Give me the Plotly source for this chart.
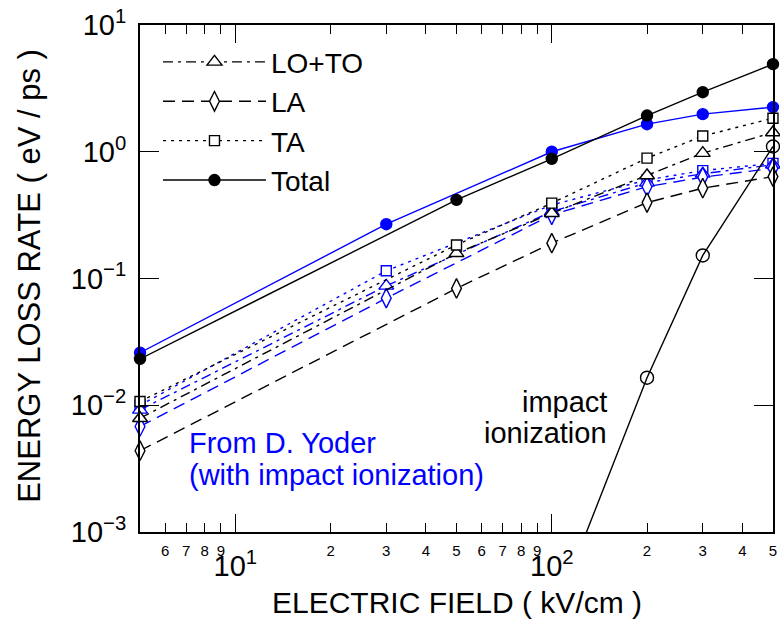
import math
import plotly.graph_objects as go

# ---- data ----
field_black = [5, 50, 100, 200, 300, 500]
lo_to_black = [0.0079, 0.158, 0.327, 0.65, 0.975, 1.42]
la_black = [0.00438, 0.0835, 0.19, 0.397, 0.516, 0.637]
ta_black = [0.0107, 0.184, 0.393, 0.89, 1.33, 1.84]
total_black = [0.0232, 0.417, 0.88, 1.93, 2.95, 4.91]

field_blue = [5, 30, 100, 200, 300, 500]
lo_to_blue = [0.0092, 0.0875, 0.337, 0.57, 0.67, 0.79]
la_blue = [0.0068, 0.070, 0.318, 0.53, 0.63, 0.74]
ta_blue = [0.0100, 0.115, 0.38, 0.60, 0.71, 0.81]
total_blue = [0.026, 0.268, 1.0, 1.65, 1.98, 2.25]

impact_field = [100, 200, 300, 500]
impact_rate = [0.0002, 0.0165, 0.152, 1.1]

minor_x_vals = [6, 7, 8, 9, 20, 30, 40, 50, 60, 70, 80, 90, 200, 300, 400, 500]
minor_x_text = ["6", "7", "8", "9", "2", "3", "4", "5", "6", "7", "8", "9", "2", "3", "4", "5"]
major_x_vals = [10, 100]
major_x_text = ["10<sup>1</sup>", "10<sup>2</sup>"]
y_vals = [1e-3, 1e-2, 1e-1, 1, 10]
y_text = ["10<sup>\u22123</sup>", "10<sup>\u22122</sup>", "10<sup>\u22121</sup>", "10<sup>0</sup>", "10<sup>1</sup>"]

BLUE = "#0000ff"
BLACK = "#000000"
FONT = "Liberation Sans, Arial, sans-serif"

DASH_LOTO = "10px,5px,3px,5px"
DASH_LA = "12px,7px"
DASH_TA = "3px,5px"

fig = go.Figure()


def add_series(x, y, color, dash, symbol, size, name, legend, filled=False):
    fig.add_trace(go.Scatter(
        x=x, y=y, mode="lines+markers", name=name, showlegend=legend,
        line=dict(color=color, width=1.4, dash=dash),
        marker=dict(symbol=symbol, size=size,
                    color=color if filled else "white",
                    line=dict(color=color, width=1.4)),
        cliponaxis=False,
    ))


# blue (D. Yoder) series
add_series(field_blue, ta_blue, BLUE, DASH_TA, "square", 10, "TA (Yoder)", False)
add_series(field_blue, lo_to_blue, BLUE, DASH_LOTO, "triangle-up", 13, "LO+TO (Yoder)", False)
add_series(field_blue, la_blue, BLUE, DASH_LA, "diamond-tall", 14, "LA (Yoder)", False)
add_series(field_blue, total_blue, BLUE, "solid", "circle", 11, "Total (Yoder)", False, filled=True)

# black series
add_series(field_black, lo_to_black, BLACK, DASH_LOTO, "triangle-up", 13, "LO+TO", True)
add_series(field_black, la_black, BLACK, DASH_LA, "diamond-tall", 14, "LA", True)
add_series(field_black, ta_black, BLACK, DASH_TA, "square", 10, "TA", True)
add_series(field_black, total_black, BLACK, "solid", "circle", 11, "Total", True, filled=True)

# impact ionization: line clipped at the axes (drawn on the overlaid major-tick axis,
# which has the identical range), markers for the visible points
fig.add_trace(go.Scatter(
    x=impact_field, y=impact_rate, mode="lines", showlegend=False,
    line=dict(color=BLACK, width=1.4), cliponaxis=True,
    xaxis="x2", yaxis="y",
))
fig.add_trace(go.Scatter(
    x=impact_field[1:], y=impact_rate[1:], mode="markers", showlegend=False,
    marker=dict(symbol="circle-open", size=13, color=BLACK, line=dict(width=1.4)),
    cliponaxis=False,
))

pad = 1e-4
xrange_log = [math.log10(5) - pad, math.log10(500) + pad]

fig.update_layout(
    width=780, height=621,
    margin=dict(l=140, r=7, t=25, b=89, autoexpand=False),
    paper_bgcolor="white", plot_bgcolor="white",
    font=dict(family=FONT, color=BLACK),
    xaxis=dict(
        type="log", range=xrange_log, showgrid=False, zeroline=False,
        showline=True, linewidth=2, linecolor=BLACK, mirror="ticks",
        ticks="inside", ticklen=9, tickwidth=1.2, tickcolor=BLACK,
        tickmode="array", tickvals=minor_x_vals, ticktext=minor_x_text,
        tickfont=dict(size=15, family=FONT), ticklabelstandoff=4,
    ),
    xaxis2=dict(
        type="log", range=xrange_log, overlaying="x", anchor="y", side="bottom",
        showgrid=False, zeroline=False,
        showline=True, linewidth=2, linecolor=BLACK, mirror="ticks",
        ticks="inside", ticklen=18, tickwidth=1.2, tickcolor=BLACK,
        tickmode="array", tickvals=major_x_vals, ticktext=major_x_text,
        tickfont=dict(size=29, family=FONT), ticklabelstandoff=7,
    ),
    yaxis=dict(
        type="log", range=[-3, 1], showgrid=False, zeroline=False,
        showline=True, linewidth=2, linecolor=BLACK, mirror="ticks",
        ticks="inside", ticklen=19, tickwidth=1.2, tickcolor=BLACK,
        tickmode="array", tickvals=y_vals, ticktext=y_text,
        tickfont=dict(size=29, family=FONT), ticklabelstandoff=6,
    ),
    legend=dict(
        x=0.0284, y=0.976, xanchor="left", yanchor="top",
        bgcolor="rgba(0,0,0,0)", borderwidth=0,
        font=dict(size=28, family=FONT, color=BLACK),
        itemwidth=103, tracegroupgap=0,
    ),
    showlegend=True,
)

fig.add_annotation(text="ELECTRIC FIELD ( kV/cm )", xref="paper", yref="paper",
                   x=0.5, y=-0.14, xanchor="center", yanchor="middle",
                   showarrow=False, font=dict(size=30, family=FONT, color=BLACK))
fig.add_annotation(text="ENERGY LOSS RATE ( eV / ps )", xref="paper", yref="paper",
                   x=-0.174, y=0.505, xanchor="center", yanchor="middle", textangle=-90,
                   showarrow=False, font=dict(size=31, family=FONT, color=BLACK))
fig.add_annotation(text="From D. Yoder", xref="paper", yref="paper",
                   x=0.074, y=0.176, xanchor="left", yanchor="middle",
                   showarrow=False, font=dict(size=29, family=FONT, color=BLUE))
fig.add_annotation(text="(with impact ionization)", xref="paper", yref="paper",
                   x=0.074, y=0.113, xanchor="left", yanchor="middle",
                   showarrow=False, font=dict(size=29, family=FONT, color=BLUE))
fig.add_annotation(text="impact", xref="paper", yref="paper",
                   x=0.741, y=0.257, xanchor="right", yanchor="middle",
                   showarrow=False, font=dict(size=29, family=FONT, color=BLACK))
fig.add_annotation(text="ionization", xref="paper", yref="paper",
                   x=0.741, y=0.195, xanchor="right", yanchor="middle",
                   showarrow=False, font=dict(size=29, family=FONT, color=BLACK))

fig.write_html("out.html")
